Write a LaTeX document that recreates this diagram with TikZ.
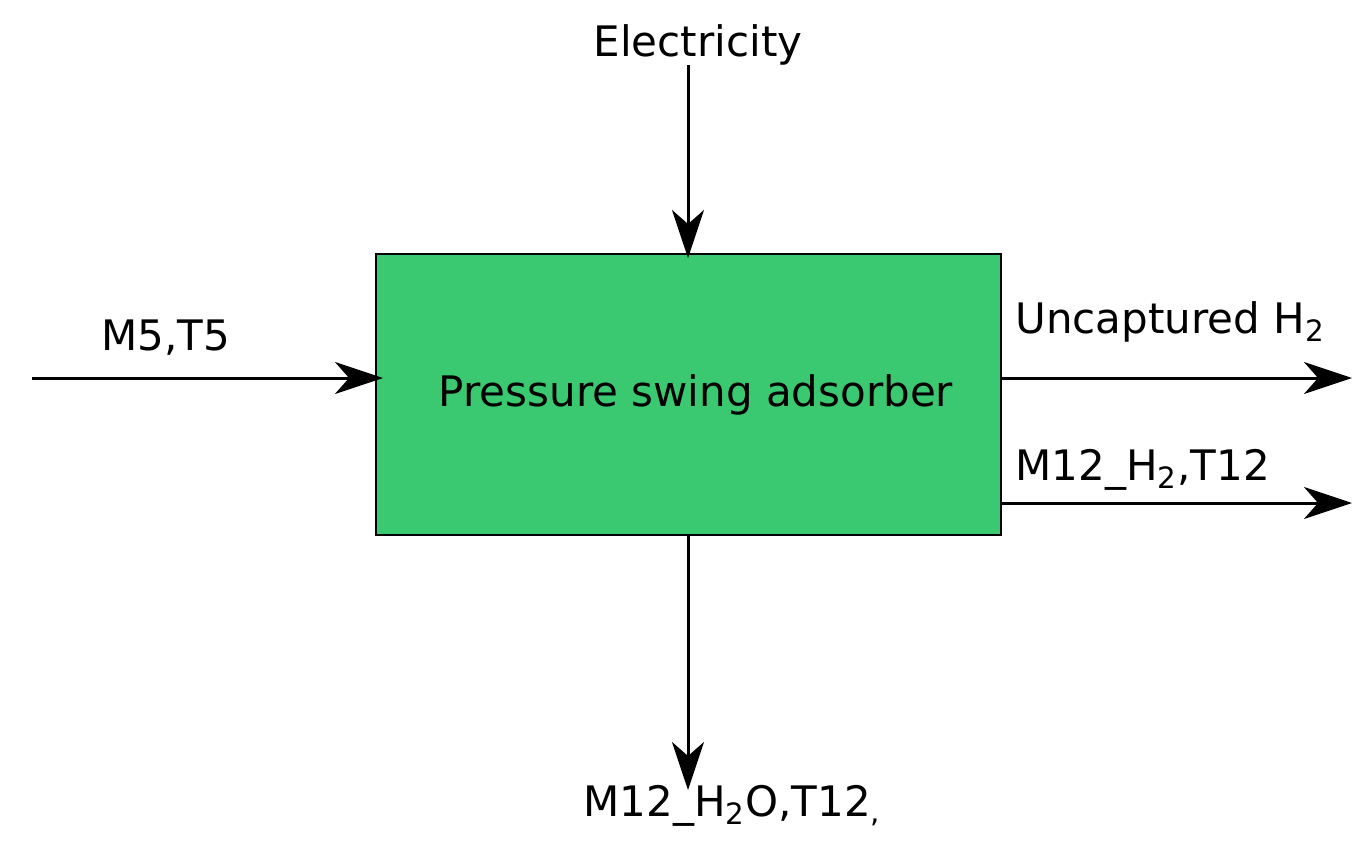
\documentclass[tikz,border=0pt]{standalone}
\usepackage{fontspec}
\setmainfont{DejaVu Sans}
\usetikzlibrary{arrows.meta}
\newlength{\du}
\setlength{\du}{0.5pt}
\definecolor{boxgreen}{RGB}{58,200,112}
\tikzset{
  flow/.style={line width=1.5pt, -{Stealth[length=24pt,width=16pt,inset=7pt]}},
  lbl/.style={font=\fontsize{21}{24}\selectfont, inner sep=0pt}
}
\begin{document}
\begin{tikzpicture}
\pgftransformyscale{-1.000000}
\useasboundingbox (0\du,0\du) rectangle (1371\du,851\du);
% unit box
\fill[boxgreen] (376\du,254\du) rectangle (1001\du,535\du);
\draw[line width=0.75pt] (376\du,254\du) rectangle (1001\du,535\du);
\node[lbl] (psa) at (696\du,395\du) {Pressure swing adsorber};
\coordinate (boxW) at (383\du,378\du);
\coordinate (boxN) at (688\du,258\du);
\coordinate (boxS) at (688\du,535\du);
\coordinate (boxE1) at (1001\du,378\du);
\coordinate (boxE2) at (1001\du,503\du);
% streams
\coordinate (inW) at (32\du,378\du);
\node[lbl] (feed) at (166\du,338\du) {M5,T5};
\draw[flow] (inW) -- (boxW);
\node[lbl] (elec) at (698\du,45\du) {Electricity};
\coordinate (elecS) at (688\du,65\du);
\draw[flow] (elecS) -- (boxN);
\coordinate (outE1) at (1352\du,378\du);
\node[lbl, anchor=west] (unc) at (1015\du,322\du) {Uncaptured H\textsubscript{2}};
\draw[flow] (boxE1) -- (outE1);
\coordinate (outE2) at (1352\du,503\du);
\node[lbl, anchor=west] (prod) at (1015\du,470\du) {M12\_H\textsubscript{2},T12};
\draw[flow] (boxE2) -- (outE2);
\coordinate (outS) at (688\du,790\du);
\node[lbl, anchor=west] (water) at (583\du,806\du) {M12\_H\textsubscript{2}O,T12\textsubscript{,}};
\draw[flow] (boxS) -- (outS);
\end{tikzpicture}
\end{document}
